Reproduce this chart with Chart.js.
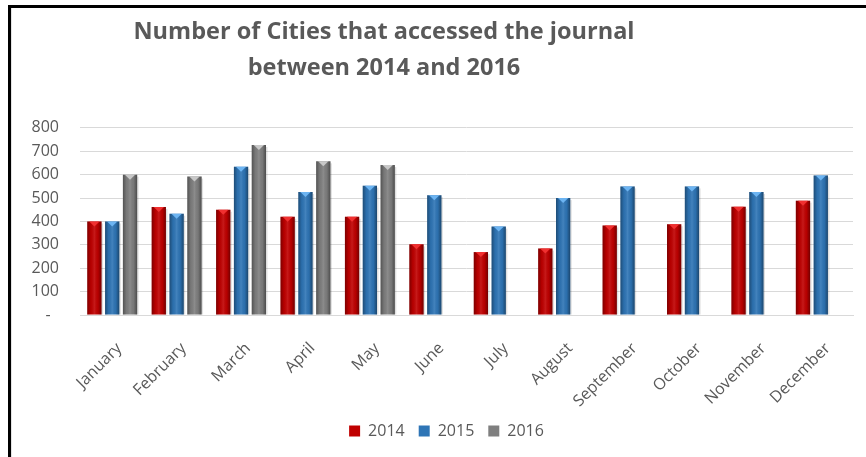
<!DOCTYPE html>
<html lang="en">
<head>
    <meta charset="UTF-8">
    <title>Cities accessing the journal</title>
    <script src="https://cdn.jsdelivr.net/npm/chart.js@4.4.1/dist/chart.umd.min.js"></script>
    <style>
        body {
            margin: 0;
            background: #fff;
            font-family: "Open Sans", sans-serif;
        }
        .frame {
            position: absolute;
            left: 8px;
            top: 5px;
            width: 870px;
            height: 470px;
            border-top: 3px solid #000;
            border-left: 3px solid #000;
        }
        .frame .inner {
            position: absolute;
            left: 0;
            top: 0;
            width: 1px;
            height: 100%;
            background: #e3e3e3;
        }
        .chart-box {
            position: absolute;
            left: 0;
            top: 0;
            width: 866px;
            height: 457px;
        }
    </style>
</head>
<body>
    <div class="frame"><div class="inner"></div></div>
    <div class="chart-box">
        <canvas id="myChart"></canvas>
    </div>

    <script>
        // Data
        const months = ['January', 'February', 'March', 'April', 'May', 'June',
                        'July', 'August', 'September', 'October', 'November', 'December'];
        const cities2014 = [400, 462, 450, 420, 420, 302, 269, 284, 383, 388, 463, 489];
        const cities2015 = [400, 433, 634, 526, 553, 512, 378, 500, 550, 550, 526, 597];
        const cities2016 = [600, 592, 727, 657, 641, null, null, null, null, null, null, null];
        const yTicks = [0, 100, 200, 300, 400, 500, 600, 700, 800];

        const grey = '#595959';

        // title sits a bit left of centre, legend a bit right
        const nudge = {
            id: 'nudge',
            afterLayout(chart) {
                chart.titleBlock.left = 0;
                chart.titleBlock.right = 768;
                chart.legend.left += 28;
            }
        };

        // shading + little triangle on top of each bar (3D-ish bevel)
        const bevel = {
            id: 'bevel',
            afterDatasetsDraw(chart) {
                const ctx = chart.ctx;
                ctx.save();
                chart.data.datasets.forEach((ds, i) => {
                    const meta = chart.getDatasetMeta(i);
                    meta.data.forEach((bar, j) => {
                        if (ds.data[j] == null) return;
                        const p = bar.getProps(['x', 'y', 'base', 'width'], true);
                        const l = p.x - p.width / 2, r = p.x + p.width / 2;
                        const g = ctx.createLinearGradient(l, 0, r, 0);
                        g.addColorStop(0, 'rgba(0,0,0,0.35)');
                        g.addColorStop(0.25, 'rgba(0,0,0,0.05)');
                        g.addColorStop(0.5, 'rgba(255,255,255,0.10)');
                        g.addColorStop(0.75, 'rgba(0,0,0,0.05)');
                        g.addColorStop(1, 'rgba(0,0,0,0.40)');
                        ctx.fillStyle = g;
                        ctx.fillRect(l, p.y, p.width, p.base - p.y);
                        // soft shadow on the right
                        ctx.fillStyle = 'rgba(0,0,0,0.12)';
                        ctx.fillRect(r, p.y + 2, 1.5, p.base - p.y - 2);
                        // top cap
                        ctx.fillStyle = ds.capColor;
                        ctx.beginPath();
                        ctx.moveTo(l + 2, p.y);
                        ctx.lineTo(r - 2, p.y);
                        ctx.lineTo(p.x, p.y + 5);
                        ctx.closePath();
                        ctx.fill();
                    });
                });
                ctx.restore();
            }
        };

        Chart.defaults.font.family = '"Open Sans", sans-serif';
        Chart.defaults.color = grey;

        const ctx = document.getElementById('myChart').getContext('2d');
        new Chart(ctx, {
            type: 'bar',
            data: {
                labels: months,
                datasets: [
                    {
                        label: '2014',
                        data: cities2014,
                        backgroundColor: '#c00000',
                        capColor: '#f03030'
                    },
                    {
                        label: '2015',
                        data: cities2015,
                        backgroundColor: '#2e75b6',
                        capColor: '#6cb4f2'
                    },
                    {
                        label: '2016',
                        data: cities2016,
                        backgroundColor: '#7f7f7f',
                        capColor: '#c8c8c8'
                    }
                ]
            },
            options: {
                responsive: true,
                maintainAspectRatio: false,
                animation: false,
                categoryPercentage: 0.83,
                barPercentage: 0.8,
                layout: {
                    padding: { top: 14, left: 12, right: 13, bottom: 8 }
                },
                plugins: {
                    title: {
                        display: true,
                        text: ['Number of Cities that accessed the journal', 'between 2014 and 2016'],
                        color: grey,
                        font: { size: 23.5, weight: 'bold', lineHeight: 1.53 },
                        padding: { top: 0, bottom: 42 }
                    },
                    legend: {
                        position: 'bottom',
                        labels: {
                            boxWidth: 11,
                            boxHeight: 11,
                            padding: 14,
                            color: grey,
                            font: { size: 16 }
                        }
                    },
                    tooltip: { enabled: false }
                },
                scales: {
                    x: {
                        grid: { display: false },
                        border: { color: '#d9d9d9' },
                        ticks: {
                            maxRotation: 45,
                            minRotation: 45,
                            padding: 16,
                            labelOffset: 7,
                            color: grey,
                            font: { size: 16 }
                        },
                        afterFit: function(scale) { scale.height = 94; }
                    },
                    y: {
                        min: 0,
                        max: 800,
                        border: { display: false },
                        grid: { color: '#d9d9d9', drawTicks: false },
                        afterBuildTicks: function(scale) {
                            scale.ticks = yTicks.map(v => ({ value: v }));
                        },
                        ticks: {
                            padding: 21,
                            color: grey,
                            font: { size: 16 },
                            callback: function(v) { return v === 0 ? '-  ' : v; }
                        },
                        afterFit: function(scale) { scale.width = 68; }
                    }
                }
            },
            plugins: [nudge, bevel]
        });
    </script>
</body>
</html>
